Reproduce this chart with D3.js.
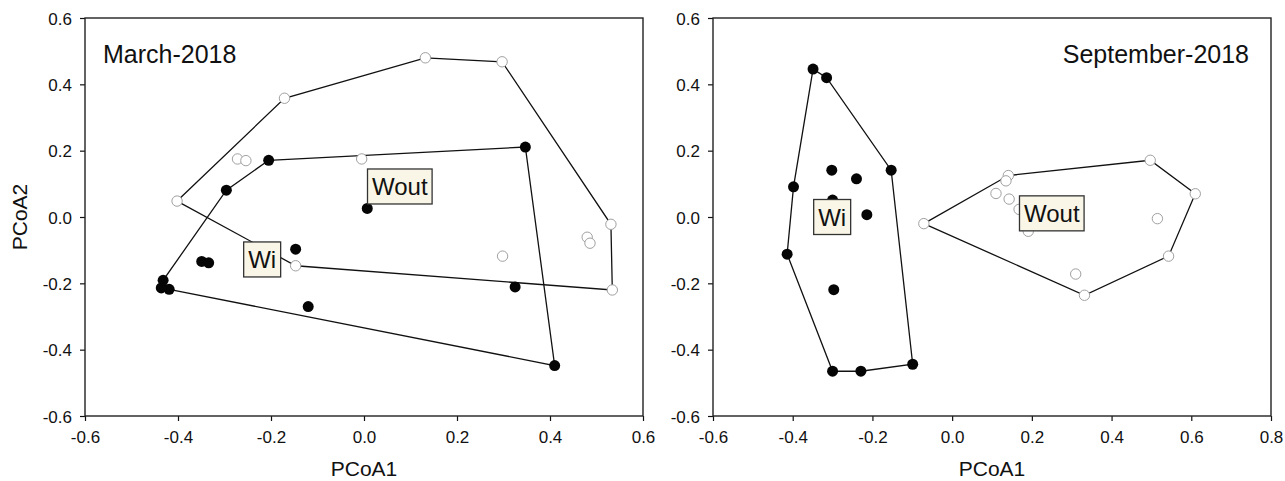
<!DOCTYPE html>
<html>
<head>
<meta charset="utf-8">
<script src="https://cdn.jsdelivr.net/npm/d3@7"></script>
<style>
  body { margin: 0; background: white; }
  text { font-family: "Liberation Sans", Arial, sans-serif; }
</style>
</head>
<body>
<script>
// March-2018, Wi (filled) and Wout (open)
let marchWiX = [-0.205, 0.347, 0.410, -0.419, -0.436, -0.432, -0.296, 0.007, -0.147, -0.349, -0.334, -0.120, 0.325]
let marchWiY = [0.171, 0.211, -0.448, -0.218, -0.214, -0.191, 0.081, 0.026, -0.097, -0.134, -0.138, -0.270, -0.211]
let marchWiHull = [0, 1, 2, 3, 4, 5, 6, 0]

let marchWoutX = [-0.402, -0.171, 0.132, 0.297, 0.531, 0.534, -0.147, -0.272, -0.254, -0.005, 0.298, 0.480, 0.486]
let marchWoutY = [0.048, 0.358, 0.480, 0.468, -0.022, -0.220, -0.147, 0.175, 0.170, 0.175, -0.118, -0.061, -0.079]
let marchWoutHull = [0, 1, 2, 3, 4, 5, 6, 0]

// September-2018
let septWiX = [-0.349, -0.315, -0.153, -0.099, -0.229, -0.300, -0.414, -0.398, -0.302, -0.240, -0.300, -0.214, -0.297]
let septWiY = [0.446, 0.420, 0.141, -0.444, -0.465, -0.465, -0.112, 0.091, 0.141, 0.115, 0.051, 0.007, -0.219]
let septWiHull = [0, 1, 2, 3, 4, 5, 6, 7, 0]

let septWoutX = [-0.071, 0.141, 0.497, 0.610, 0.543, 0.332, 0.135, 0.110, 0.143, 0.168, 0.191, 0.515, 0.310]
let septWoutY = [-0.020, 0.125, 0.171, 0.070, -0.118, -0.236, 0.109, 0.071, 0.054, 0.023, -0.043, -0.005, -0.172]
let septWoutHull = [0, 1, 2, 3, 4, 5, 0]

// group labels, anchored at data coordinates
let labelText = ['Wi', 'Wout']
let marchLabelX = [-0.219, 0.077]
let marchLabelY = [-0.128, 0.092]
let septLabelX = [-0.301, 0.250]
let septLabelY = [0.000, 0.011]

let xTicksMarch = [-0.6, -0.4, -0.2, 0.0, 0.2, 0.4, 0.6]
let xTicksSept = [-0.6, -0.4, -0.2, 0.0, 0.2, 0.4, 0.6, 0.8]
let yTicks = [-0.6, -0.4, -0.2, 0.0, 0.2, 0.4, 0.6]

const width = 1285
const height = 481

let svg = d3.select('body')
    .append('svg')
    .attr('width', width)
    .attr('height', height)

// plain hyphen minus, like the original
let fmt = d => d.toFixed(1)

function panel(opt) {
    let xScale = d3.scaleLinear()
        .domain(opt.xDomain)
        .range([opt.left, opt.right])
    let yScale = d3.scaleLinear()
        .domain([-0.6, 0.6])
        .range([416, 18])

    let g = svg.append('g')

    // axes
    g.append('g')
        .attr('transform', `translate(0,416)`)
        .call(d3.axisBottom(xScale).tickValues(opt.xTicks).tickFormat(fmt)
            .tickSize(5).tickSizeOuter(0).tickPadding(10))
        .call(a => a.selectAll('text').attr('font-size', '17px').attr('font-family', 'Liberation Sans, Arial, sans-serif').attr('fill', '#111'))
        .call(a => a.select('.domain').remove())
    g.append('g')
        .attr('transform', `translate(${opt.left},0)`)
        .call(d3.axisLeft(yScale).tickValues(yTicks).tickFormat(fmt)
            .tickSize(5).tickSizeOuter(0).tickPadding(8))
        .call(a => a.selectAll('text').attr('font-size', '17px').attr('font-family', 'Liberation Sans, Arial, sans-serif').attr('fill', '#111').attr('dy', '0.36em'))
        .call(a => a.select('.domain').remove())

    g.selectAll('.tick line').attr('stroke', '#111').attr('stroke-width', 1.2)

    // frame
    g.append('rect')
        .attr('x', opt.left)
        .attr('y', 18)
        .attr('width', opt.right - opt.left)
        .attr('height', 398)
        .attr('fill', 'none')
        .attr('stroke', '#222')
        .attr('stroke-width', 1.4)

    let line = d3.line()
        .x(d => xScale(d[0]))
        .y(d => yScale(d[1]))

    // hulls
    let hulls = [[opt.wiX, opt.wiY, opt.wiHull], [opt.woX, opt.woY, opt.woHull]]
    hulls.forEach(h => {
        g.append('path')
            .datum(h[2].map(i => [h[0][i], h[1][i]]))
            .attr('d', line)
            .attr('fill', 'none')
            .attr('stroke', '#111')
            .attr('stroke-width', 1.3)
    })

    // open points (Wout)
    g.selectAll('circle.wout')
        .data(opt.woX)
        .enter()
        .append('circle')
        .attr('class', 'wout')
        .attr('cx', d => xScale(d))
        .attr('cy', (d, i) => yScale(opt.woY[i]))
        .attr('r', 5.2)
        .attr('fill', 'white')
        .attr('stroke', '#a0a0a0')
        .attr('stroke-width', 1)

    // filled points (Wi)
    g.selectAll('circle.wi')
        .data(opt.wiX)
        .enter()
        .append('circle')
        .attr('class', 'wi')
        .attr('cx', d => xScale(d))
        .attr('cy', (d, i) => yScale(opt.wiY[i]))
        .attr('r', 5.5)
        .attr('fill', '#050505')

    // group labels
    labelText.forEach((t, i) => {
        let cx = xScale(opt.labX[i])
        let cy = yScale(opt.labY[i])
        let lg = g.append('g')
        let r = lg.append('rect')
        let tx = lg.append('text')
            .attr('x', cx)
            .attr('y', cy)
            .attr('dy', '0.36em')
            .attr('text-anchor', 'middle')
            .attr('font-size', '24px')
            .attr('fill', '#111')
            .text(t)
        let w = tx.node().getComputedTextLength() + 9
        r.attr('x', cx - w / 2)
            .attr('y', cy - 17.5)
            .attr('width', w)
            .attr('height', 35)
            .attr('fill', '#f9f6e8')
            .attr('stroke', '#333')
            .attr('stroke-width', 1.3)
    })

    // title
    g.append('text')
        .attr('x', opt.titleX)
        .attr('y', 63)
        .attr('text-anchor', opt.titleAnchor)
        .attr('font-size', '25px')
        .attr('fill', '#111')
        .text(opt.title)

    // x axis title
    g.append('text')
        .attr('x', (opt.left + opt.right) / 2)
        .attr('y', 476)
        .attr('text-anchor', 'middle')
        .attr('font-size', '21px')
        .attr('fill', '#111')
        .text('PCoA1')
}

panel({
    left: 85, right: 643, xDomain: [-0.6, 0.6], xTicks: xTicksMarch,
    wiX: marchWiX, wiY: marchWiY, wiHull: marchWiHull,
    woX: marchWoutX, woY: marchWoutY, woHull: marchWoutHull,
    labX: marchLabelX, labY: marchLabelY,
    title: 'March-2018', titleX: 103, titleAnchor: 'start'
})

panel({
    left: 713, right: 1271, xDomain: [-0.6, 0.8], xTicks: xTicksSept,
    wiX: septWiX, wiY: septWiY, wiHull: septWiHull,
    woX: septWoutX, woY: septWoutY, woHull: septWoutHull,
    labX: septLabelX, labY: septLabelY,
    title: 'September-2018', titleX: 1249, titleAnchor: 'end'
})

svg.append('text')
    .attr('transform', 'translate(27,217) rotate(-90)')
    .attr('text-anchor', 'middle')
    .attr('font-size', '21px')
    .attr('fill', '#111')
    .text('PCoA2')
</script>
</body>
</html>
